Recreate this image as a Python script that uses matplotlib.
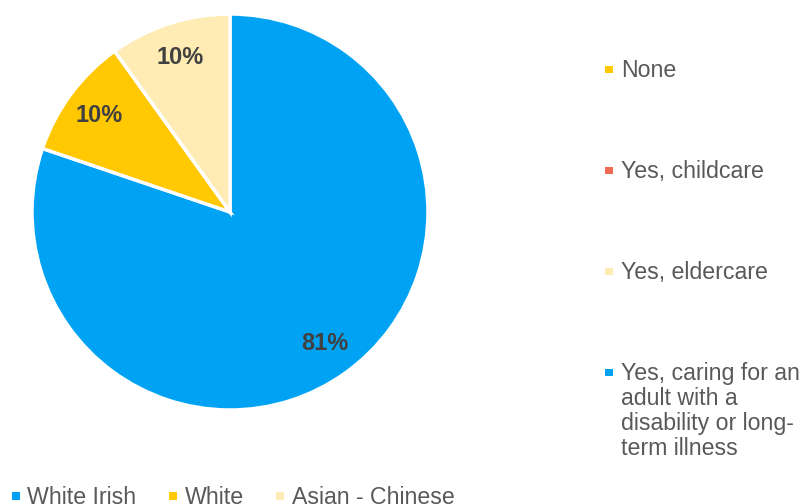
import matplotlib
matplotlib.use('Agg')
import matplotlib.pyplot as plt
from matplotlib.patches import Rectangle
from matplotlib.lines import Line2D

plt.rcParams['font.family'] = ['Liberation Sans', 'DejaVu Sans']

# ethnicity split shown in the pie
ethnicity = ['White Irish', 'White', 'Asian - Chinese']
shares = [81, 10, 10]
pie_colors = ['#00A3F4', '#FFC800', '#FFECB4']

# caring responsibilities legend
care_labels = ['None', 'Yes, childcare', 'Yes, eldercare',
               'Yes, caring for an\nadult with a\ndisability or long-\nterm illness']
care_colors = ['#FFC800', '#EE6A50', '#FFECB4', '#00A3F4']

text_col = '#595959'

W, H = 811, 504
fig = plt.figure(figsize=(W / 100, H / 100), dpi=100)
fig.patch.set_facecolor('white')


def fx(px):
    return px / W


def fy(py):
    return 1 - py / H


# pie centred at (230, 212) px, radius ~198 px
cx, cy, r = 230, 212, 198
ax = fig.add_axes([(cx - r) / W, (H - cy - r) / H, 2 * r / W, 2 * r / H])
wedges, texts = ax.pie(shares, colors=pie_colors, startangle=90, counterclock=False,
                       labels=['%d%%' % v for v in shares], labeldistance=0.82,
                       wedgeprops=dict(edgecolor='white', linewidth=2.5))
for t in texts:
    t.set_ha('center')
    t.set_va('center')
    t.set_fontsize(17)
    t.set_fontweight('bold')
    t.set_color('#404040')
ax.set_xlim(-1, 1)
ax.set_ylim(-1, 1)
ax.set_aspect('equal')
ax.axis('off')

# legend for the pie along the bottom edge
handles = [Line2D([], [], marker='s', linestyle='none', markersize=5.4,
                  markerfacecolor=w.get_facecolor(), markeredgewidth=0) for w in wedges]
leg1 = fig.legend(handles, ethnicity, loc='lower left', ncol=3,
                  bbox_to_anchor=(fx(12), fy(509)), frameon=False, fontsize=16.7,
                  handlelength=0.32, handletextpad=0.33,
                  columnspacing=1.43, borderpad=0, borderaxespad=0)
for t in leg1.get_texts():
    t.set_color(text_col)

# caring legend on the right, one entry every 101 px, 25 px between lines
for i, (lab, col) in enumerate(zip(care_labels, care_colors)):
    base = 77 + 101 * i
    fig.add_artist(Rectangle((fx(605), fy(base - 4)), 7.5 / W, 7.5 / H,
                             transform=fig.transFigure, facecolor=col, edgecolor='none'))
    for k, line in enumerate(lab.split('\n')):
        fig.text(fx(621), fy(base + 25 * k), line, ha='left', va='baseline',
                 fontsize=16.7, color=text_col)

fig.savefig('out.png', dpi=100)
